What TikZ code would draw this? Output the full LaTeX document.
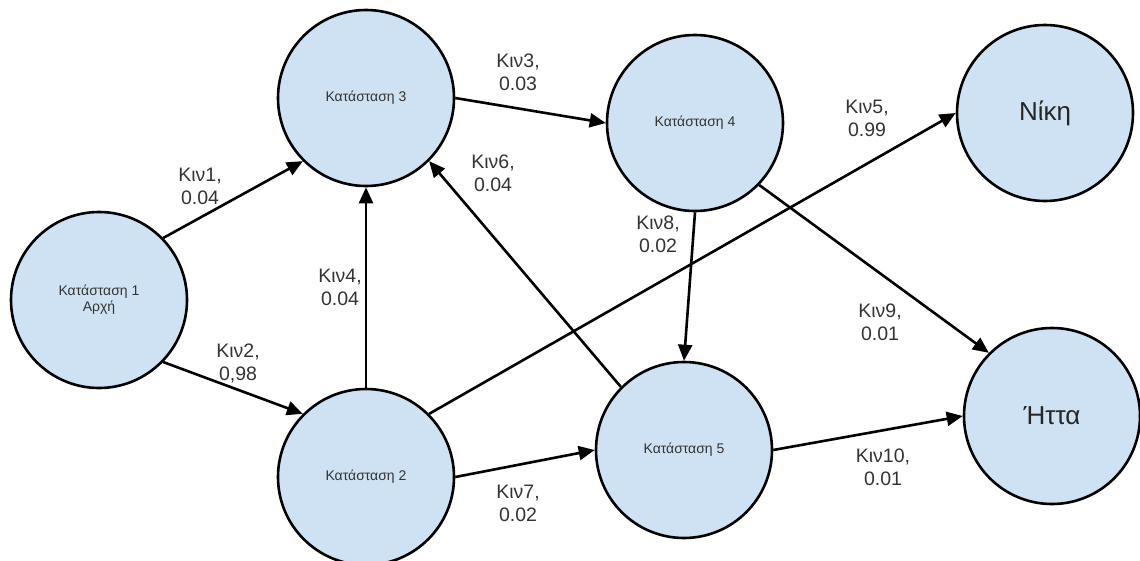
\documentclass[tikz,border=0pt]{standalone}
\usepackage{fontspec}
\setmainfont{Liberation Sans}
\usetikzlibrary{arrows.meta}
\definecolor{statefill}{HTML}{CFE2F3}
\definecolor{inktext}{HTML}{333333}
\begin{document}
\begin{tikzpicture}[x=1pt,y=-1pt,
  state/.style={circle, draw=black, line width=2.6pt, fill=statefill,
    minimum size=176pt, inner sep=0pt, align=center, text=inktext,
    font=\fontsize{14}{16}\selectfont},
  goal/.style={state, font=\fontsize{26}{30}\selectfont, text=black!85},
  move/.style={line width=2.6pt, -{Triangle[length=16pt,width=14pt]}},
  prob/.style={align=center, text=inktext, font=\fontsize{19.5}{23}\selectfont}]
\useasboundingbox (0,0) rectangle (1140,560);

% states
\node[state] (s1) at (99,300) {Κατάσταση 1\\Αρχή};
\node[state] (s3) at (366,98) {Κατάσταση 3};
\node[state] (s4) at (695,123) {Κατάσταση 4};
\node[state] (s2) at (366,477) {Κατάσταση 2};
\node[state] (s5) at (684,450) {Κατάσταση 5};
\node[goal] (win) at (1045,113) {Νίκη};
\node[goal] (loss) at (1052,416) {Ήττα};

% transitions
\draw[move] (s1.44) -- (s3.225);
\draw[move] (s1.-44) -- (s2.135);
\draw[move] (s3.east) -- (s4.west);
\draw[move] (s2.north) -- (s3.south);
\draw[move] (s2.45) -- (win.west);
\draw[move] (s5.135) -- (s3.-45);
\draw[move] (s2.east) -- (s5.west);
\draw[move] (s4.south) -- (s5.north);
\draw[move] (s4.-44) -- (loss.135);
\draw[move] (s5.east) -- (loss.west);

% transition labels
\node[prob] (p1) at (200,186) {Κιν1,\\0.04};
\node[prob] (p2) at (238,363) {Κιν2,\\0,98};
\node[prob] (p3) at (518,72) {Κιν3,\\0.03};
\node[prob] (p4) at (340,287) {Κιν4,\\0.04};
\node[prob] (p5) at (867,118) {Κιν5,\\0.99};
\node[prob] (p6) at (493,173) {Κιν6,\\0.04};
\node[prob] (p7) at (518,503) {Κιν7,\\0.02};
\node[prob] (p8) at (658,234) {Κιν8,\\0.02};
\node[prob] (p9) at (880,322) {Κιν9,\\0.01};
\node[prob] (p10) at (883,467) {Κιν10,\\0.01};
\end{tikzpicture}
\end{document}
